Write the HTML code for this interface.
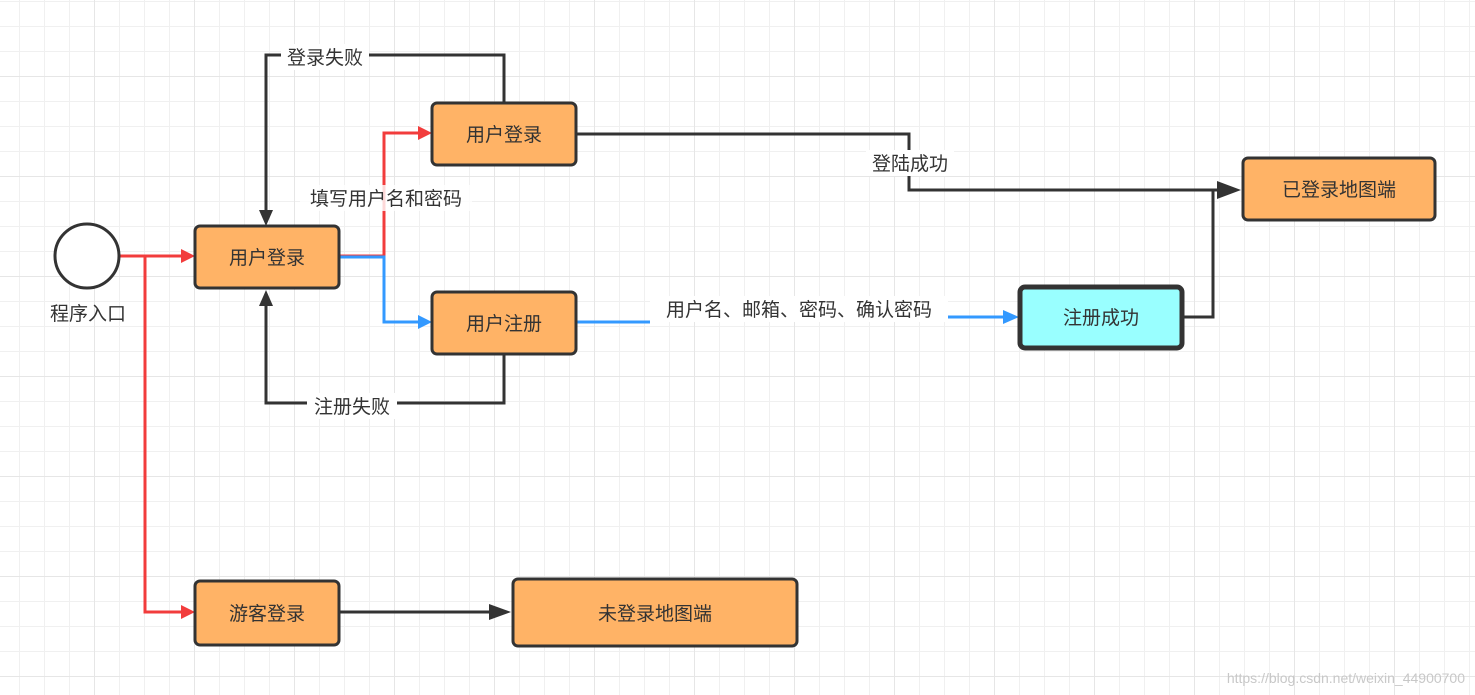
<!DOCTYPE html>
<html><head><meta charset="utf-8"><style>
html,body{margin:0;padding:0;background:#fff;}
svg{display:block;}
text{font-family:"Liberation Sans","Noto Sans CJK SC",sans-serif;font-size:19px;fill:#333;}
</style></head><body>
<svg width="1475" height="695" viewBox="0 0 1475 695" xmlns="http://www.w3.org/2000/svg">
<defs>
<pattern id="minor" x="19" y="1" width="25" height="25" patternUnits="userSpaceOnUse">
<path d="M0 0V25M0 0H25" stroke="#f0f0f0" stroke-width="2" fill="none"/>
</pattern>
<pattern id="major" x="94" y="76" width="100" height="100" patternUnits="userSpaceOnUse">
<path d="M0 0V100M0 0H100" stroke="#e6e6e6" stroke-width="2" fill="none"/>
</pattern>
<marker id="ar" markerWidth="12" markerHeight="10" refX="11" refY="5" orient="auto" markerUnits="userSpaceOnUse"><path d="M0 0L12 5L0 10Z" fill="#f23c3c"/></marker>
<marker id="ab" markerWidth="12" markerHeight="10" refX="11" refY="5" orient="auto" markerUnits="userSpaceOnUse"><path d="M0 0L12 5L0 10Z" fill="#3399ff"/></marker>
</defs>
<rect width="1475" height="695" fill="#fff"/>
<rect width="1475" height="695" fill="url(#minor)"/>
<rect width="1475" height="695" fill="url(#major)"/>

<g fill="none" stroke-width="3">
<!-- red -->
<path d="M120 256H181" stroke="#f23c3c"/>
<path d="M181 249L195 256L181 263Z" fill="#f23c3c" stroke="none"/>
<path d="M145 256V612H181" stroke="#f23c3c"/>
<path d="M181 605L195 612L181 619Z" fill="#f23c3c" stroke="none"/>
<path d="M340 256H384V133H418" stroke="#f23c3c"/>
<path d="M418 126L432 133L418 140Z" fill="#f23c3c" stroke="none"/>
<!-- blue -->
<path d="M340 257H384V322H418" stroke="#3399ff"/>
<path d="M418 315L432 322L418 329Z" fill="#3399ff" stroke="none"/>
<path d="M576 322H650M948 317H1005" stroke="#3399ff"/>
<path d="M1003 310L1019 317L1003 324Z" fill="#3399ff" stroke="none"/>
<!-- dark -->
<path d="M504 103V55H266V212" stroke="#333"/>
<path d="M259 210L266 226L273 210Z" fill="#333" stroke="none"/>
<path d="M504 354V403H266V304" stroke="#333"/>
<path d="M259 306L266 290L273 306Z" fill="#333" stroke="none"/>
<path d="M576 134H909V190H1227" stroke="#333"/>
<path d="M1183 317H1213V190" stroke="#333"/>
<path d="M1217 181L1241 190L1217 199Z" fill="#333" stroke="none"/>
<path d="M339 612H497" stroke="#333"/>
<path d="M489 604L511 612L489 620Z" fill="#333" stroke="none"/>
</g>

<!-- labels bg -->
<rect x="281" y="44" width="88" height="26" fill="#fff"/>
<text x="325" y="64" text-anchor="middle">登录失败</text>
<rect x="307" y="393" width="90" height="26" fill="#fff"/>
<text x="352" y="413" text-anchor="middle">注册失败</text>
<rect x="866" y="150" width="88" height="26" fill="#fff"/>
<text x="910" y="170" text-anchor="middle">登陆成功</text>
<rect x="300" y="185" width="172" height="26" fill="#fff" fill-opacity="0.8"/>
<text x="386" y="205" text-anchor="middle">填写用户名和密码</text>
<rect x="650" y="296" width="298" height="26" fill="#fff"/>
<text x="799" y="316" text-anchor="middle">用户名、邮箱、密码、确认密码</text>

<!-- nodes -->
<circle cx="87" cy="256" r="32" fill="#fff" stroke="#333" stroke-width="3"/>
<text x="88" y="320" text-anchor="middle">程序入口</text>
<g stroke="#333" stroke-width="3" fill="#ffb366">
<rect x="195" y="226" width="144" height="62" rx="5"/>
<rect x="432" y="103" width="144" height="62" rx="5"/>
<rect x="432" y="292" width="144" height="62" rx="5"/>
<rect x="1243" y="158" width="192" height="62" rx="5"/>
<rect x="195" y="581" width="144" height="64" rx="5"/>
<rect x="513" y="579" width="284" height="67" rx="5"/>
<rect x="1020" y="287" width="162" height="61" rx="5" fill="#99ffff" stroke-width="5"/>
</g>
<text x="267" y="264" text-anchor="middle">用户登录</text>
<text x="504" y="141" text-anchor="middle">用户登录</text>
<text x="504" y="330" text-anchor="middle">用户注册</text>
<text x="1339" y="196" text-anchor="middle">已登录地图端</text>
<text x="1101" y="324" text-anchor="middle">注册成功</text>
<text x="267" y="620" text-anchor="middle">游客登录</text>
<text x="655" y="620" text-anchor="middle">未登录地图端</text>
<text x="1465" y="683" text-anchor="end" style="font-size:14px;fill:#c8c8c8">https://blog.csdn.net/weixin_44900700</text>
</svg>
</body></html>
